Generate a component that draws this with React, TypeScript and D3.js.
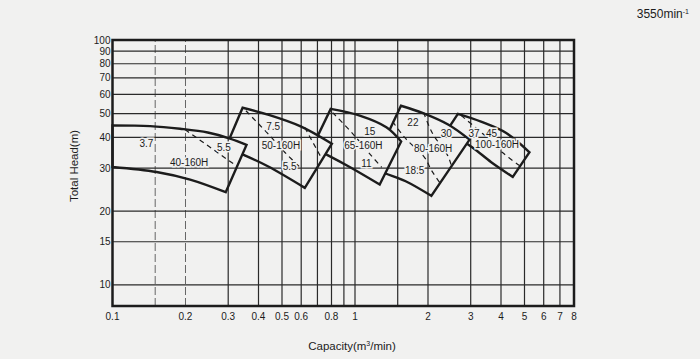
import React from 'react';
import * as d3 from 'd3';

type P = [number, number];

// ---- axes / grid values ----
const xTickValues = [0.1, 0.2, 0.3, 0.4, 0.5, 0.6, 0.8, 1, 2, 3, 4, 5, 6, 7, 8];
const xGridValues = [0.15, 0.2, 0.3, 0.4, 0.5, 0.6, 0.7, 0.8, 0.9, 1, 1.5, 2, 3, 4, 5, 6, 7];
const xDashedGrid = [0.15, 0.2];
const yTickValues = [10, 15, 20, 30, 40, 50, 60, 70, 80, 90, 100];
const yGridValues = [10, 15, 20, 30, 40, 50, 60, 70, 80, 90];

// ---- 40-160H ----
const top40: P[] = [[0.1, 44.8], [0.143, 44.5], [0.19, 43.4], [0.247, 41.9], [0.305, 39.6], [0.357, 37.3]];
const bottom40: P[] = [[0.1, 30.3], [0.152, 28.9], [0.209, 26.9], [0.293, 23.9]];
const dash40a: P[] = [[0.199, 43.1], [0.326, 30.5]];

// ---- 50-160H ----
const top50: P[] = [[0.344, 52.9], [0.437, 49.6], [0.6, 44.3], [0.803, 37.7]];
const bottom50: P[] = [[0.293, 36.4], [0.351, 33.8], [0.437, 30.5], [0.621, 24.9]];
const dash50a: P[] = [[0.355, 51.4], [0.445, 40.7], [0.513, 34.8], [0.598, 30.0]];
const dash50b: P[] = [[0.621, 43.9], [0.729, 32.8]];

// ---- 65-160H ----
const top65: P[] = [[0.794, 52.3], [1.046, 49.1], [1.347, 44.0], [1.55, 38.5]];
const bottom65: P[] = [[0.666, 36.4], [0.774, 33.8], [0.951, 30.3], [1.264, 25.7]];
const dash65a: P[] = [[0.809, 50.5], [0.978, 41.5], [1.15, 34.3], [1.288, 30.2]];

// ---- 80-160H ----
const top80: P[] = [[1.547, 53.9], [1.919, 50.2], [2.431, 45.1], [2.968, 39.2]];
const bottom80: P[] = [[1.172, 30.0], [1.338, 28.5], [1.618, 26.5], [2.064, 23.1]];
const dash80a: P[] = [[1.43, 46.4], [1.602, 40.0], [1.937, 33.1], [2.07, 29.3], [2.233, 26.2]];
const dash80b: P[] = [[1.919, 50.5], [2.089, 41.5], [2.409, 33.8], [2.502, 30.5]];

// ---- 100-160H ----
const top100: P[] = [[2.656, 49.9], [3.309, 46.4], [4.203, 41.7], [5.243, 34.8]];
const bottom100: P[] = [[2.386, 42.5], [3.039, 36.5], [3.646, 31.7], [4.474, 27.6]];
const dash100a: P[] = [[2.743, 49.1], [3.357, 41.5], [4.057, 34.7], [4.769, 30.7]];

// ---- labels (text, capacity, head) ----
const modelLabels: [string, number, number][] = [
  ['40-160H', 0.207, 31.7], ['50-160H', 0.495, 37.1], ['65-160H', 1.083, 37.1],
  ['80-160H', 2.1, 35.9], ['100-160H', 3.852, 37.5],
];
const kwLabels: [string, number, number][] = [
  ['3.7', 0.138, 37.7], ['5.5', 0.288, 36.5],
  ['7.5', 0.46, 44.2], ['5.5', 0.538, 30.5],
  ['15', 1.15, 42.2], ['11', 1.114, 31.3],
  ['22', 1.733, 46.0], ['30', 2.38, 41.7], ['18.5', 1.762, 29.2],
  ['37', 3.097, 41.6], ['45', 3.656, 41.6],
];

const W = 700, H = 359;
const BG = '#f1f1f0';
const INK = '#1c1c1c';
const FONT = "'Liberation Sans', Arial, Helvetica, sans-serif";

const x = d3.scaleLog().domain([0.1, 8]).range([112.5, 574]);
const y = d3.scaleLog().domain([8.2, 100]).range([306, 40]);

const curve = d3.line<P>().x(d => x(d[0])).y(d => y(d[1])).curve(d3.curveCatmullRom.alpha(0.5));

function outline(top: P[], bottom: P[]): string {
  const t = curve(top) as string;
  const b = curve([...bottom].reverse()) as string;
  return t + 'L' + b.slice(1) + 'Z';
}

const shapes = [
  { top: top40, bottom: bottom40, dashes: [dash40a] },
  { top: top50, bottom: bottom50, dashes: [dash50a, dash50b] },
  { top: top65, bottom: bottom65, dashes: [dash65a] },
  { top: top80, bottom: bottom80, dashes: [dash80a, dash80b] },
  { top: top100, bottom: bottom100, dashes: [dash100a] },
];

export default function App() {
  const x0 = x.range()[0], x1 = x.range()[1];
  const y0 = y.range()[0], y1 = y.range()[1];
  const paths = shapes.map(s => outline(s.top, s.bottom));
  return (
    <svg width={W} height={H} style={{ position: 'absolute', left: 0, top: 0 }} fontFamily={FONT}>
      <defs>
        {paths.map((p, i) => i > 0 ? (
          <mask id={`m${i}`} key={i} maskUnits="userSpaceOnUse" x={0} y={0} width={W} height={H}>
            <rect x={0} y={0} width={W} height={H} fill="white" />
            <path d={paths[i - 1]} fill="black" />
          </mask>
        ) : null)}
      </defs>
      <rect x={0} y={0} width={W} height={H} fill={BG} />
      {/* grid */}
      {xGridValues.map(v => (
        <line key={'gx' + v} x1={x(v)} x2={x(v)} y1={y0} y2={y1}
          stroke={xDashedGrid.includes(v) ? '#666' : '#2a2a2a'}
          strokeWidth={xDashedGrid.includes(v) ? 1 : 1.2}
          strokeDasharray={xDashedGrid.includes(v) ? '8,3' : undefined} />
      ))}
      {yGridValues.map(v => (
        <line key={'gy' + v} x1={x0} x2={x1} y1={y(v)} y2={y(v)} stroke="#2a2a2a" strokeWidth={1.2} />
      ))}
      {/* frame */}
      <rect x={x0} y={y1} width={x1 - x0} height={y0 - y1} fill="none" stroke={INK} strokeWidth={2.5} />
      {/* pump ranges */}
      {shapes.map((s, i) => (
        <g key={'s' + i}>
          <path d={paths[i]} fill="none" stroke={INK} strokeWidth={2.4} strokeLinejoin="miter"
            mask={i > 0 ? `url(#m${i})` : undefined} />
          {s.dashes.map((d, j) => (
            <path key={j} d={curve(d) as string} fill="none" stroke={INK} strokeWidth={1.2} strokeDasharray="5,4" />
          ))}
        </g>
      ))}
      {/* labels */}
      {kwLabels.map(([t, q, h], i) => (
        <text key={'k' + i} x={x(q)} y={y(h)} dy="0.35em" textAnchor="middle" fontSize={10} fill={INK}
          stroke={BG} strokeWidth={3} paintOrder="stroke">{t}</text>
      ))}
      {modelLabels.map(([t, q, h], i) => (
        <text key={'ml' + i} x={x(q)} y={y(h)} dy="0.35em" textAnchor="middle" fontSize={10} fill={INK}
          stroke={BG} strokeWidth={3} paintOrder="stroke">{t}</text>
      ))}
      {/* tick labels */}
      {xTickValues.map(v => (
        <text key={'tx' + v} x={x(v)} y={316} dy="0.35em" textAnchor="middle" fontSize={10} fill={INK}>{String(v)}</text>
      ))}
      {yTickValues.map(v => (
        <text key={'ty' + v} x={110.5} y={y(v)} dy="0.35em" textAnchor="end" fontSize={10} fill={INK}>{String(v)}</text>
      ))}
      {/* titles */}
      <text x={74} y={166} dy="0.35em" textAnchor="middle" fontSize={11.5} fill={INK} transform="rotate(-90 74 166)">Total Head(m)</text>
      <text x={352} y={346} dy="0.35em" textAnchor="middle" fontSize={11.5} fill={INK}>Capacity(m<tspan fontSize={7} dy="-4">3</tspan><tspan dy="4">/min)</tspan></text>
      <text x={689} y={14} dy="0.35em" textAnchor="end" fontSize={12} fill={INK}>3550min<tspan fontSize={7} dy="-4">-1</tspan></text>
    </svg>
  );
}
